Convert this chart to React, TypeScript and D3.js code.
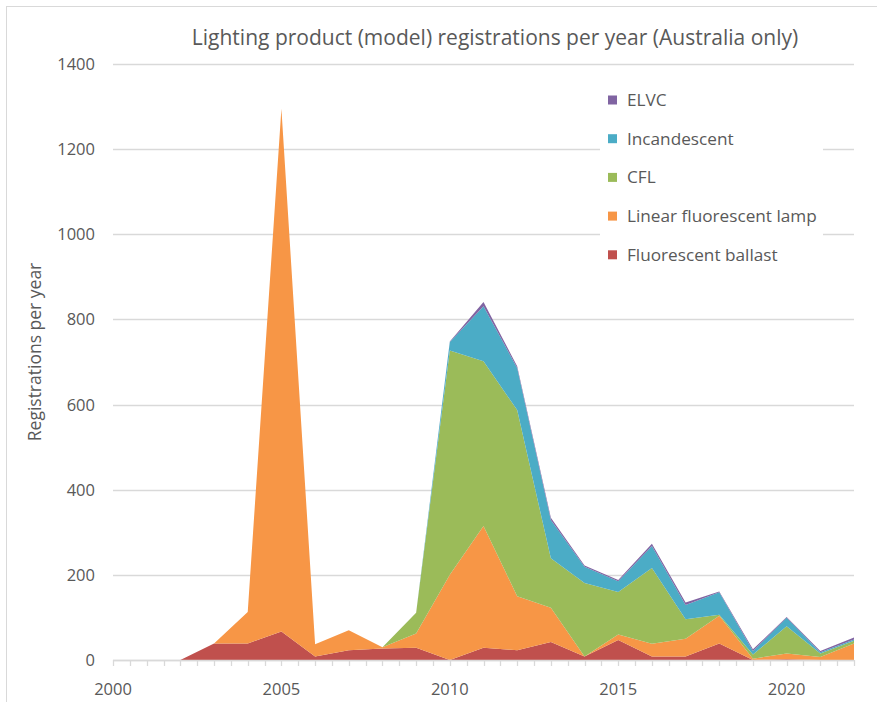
import * as d3 from 'd3'

const years = [2002, 2003, 2004, 2005, 2006, 2007, 2008, 2009, 2010, 2011, 2012, 2013, 2014, 2015, 2016, 2017, 2018, 2019, 2020, 2021, 2022]
const ballast = [0, 39, 39, 67, 8, 23, 27, 29, 0, 29, 23, 42, 8, 47, 8, 8, 39, 0, 2, 0, 0]
const linearLamp = [0, 0, 74, 1228, 29, 47, 3, 33, 200, 286, 127, 81, 0, 13, 30, 42, 65, 3, 13, 7, 39]
const cfl = [0, 0, 0, 0, 0, 0, 0, 49, 527, 387, 437, 116, 173, 100, 178, 46, 2, 10, 64, 8, 6]
const incandescent = [0, 0, 0, 0, 0, 0, 0, 0, 20, 129, 99, 90, 38, 25, 52, 33, 53, 8, 20, 3, 3]
const elvc = [0, 0, 0, 0, 0, 0, 0, 0, 1, 10, 4, 5, 3, 3, 5, 6, 2, 4, 2, 3, 5]

const series = [
  { key: 'ballast', name: 'Fluorescent ballast', color: '#C0504D', values: ballast },
  { key: 'linear', name: 'Linear fluorescent lamp', color: '#F79646', values: linearLamp },
  { key: 'cfl', name: 'CFL', color: '#9BBB59', values: cfl },
  { key: 'incandescent', name: 'Incandescent', color: '#4BACC6', values: incandescent },
  { key: 'elvc', name: 'ELVC', color: '#8064A2', values: elvc },
]

const yTicks = [0, 200, 400, 600, 800, 1000, 1200, 1400]
const xLabels = [2000, 2005, 2010, 2015, 2020]

const font = '"Open Sans", "Liberation Sans", sans-serif'
const textColor = '#595959'
const gridColor = '#D9D9D9'

export default function App() {
  const width = 877
  const height = 702
  const x = d3.scaleLinear().domain([2000, 2022]).range([113, 854])
  const y = d3.scaleLinear().domain([0, 1400]).range([660, 64])

  const table = years.map((yr, i) => {
    const row: any = { year: yr }
    series.forEach(s => (row[s.key] = s.values[i]))
    return row
  })
  const stacked = d3.stack().keys(series.map(s => s.key))(table)
  const area = d3
    .area<any>()
    .x(d => x(d.data.year))
    .y0(d => y(d[0]))
    .y1(d => y(d[1]))

  const minorTicks = d3.range(2000, 2022.01, 0.5)
  const legendItems = [...series].reverse()

  return (
    <div style={{ position: 'absolute', left: 0, top: 0 }}>
      <svg width={width} height={height} style={{ display: 'block', background: '#fff' }}>
        <rect x={6.5} y={6.5} width={900} height={900} fill="#fff" stroke={gridColor} />

        {/* gridlines */}
        {yTicks.map(t => (
          <line key={t} x1={113} x2={854} y1={Math.round(y(t)) + 0.5} y2={Math.round(y(t)) + 0.5} stroke={gridColor} strokeWidth={1.3} />
        ))}

        {/* stacked areas */}
        {stacked.map((layer, i) => (
          <path key={layer.key} d={area(layer as any) || ''} fill={series[i].color} />
        ))}

        {/* x axis */}
        <line x1={113} x2={854} y1={660.5} y2={660.5} stroke={gridColor} strokeWidth={1.3} />
        {minorTicks.map(t => (
          <line key={t} x1={Math.round(x(t)) + 0.5} x2={Math.round(x(t)) + 0.5} y1={660} y2={666} stroke={gridColor} strokeWidth={1.3} />
        ))}
        {xLabels.map(t => (
          <text key={t} x={x(t)} y={695} textAnchor="middle" fontFamily={font} fontSize={16.5} fill={textColor}>
            {t}
          </text>
        ))}

        {/* y axis labels */}
        {yTicks.map(t => (
          <text key={t} x={95} y={y(t) + 6} textAnchor="end" fontFamily={font} fontSize={16.5} fill={textColor}>
            {t}
          </text>
        ))}
        <text
          transform={`translate(41,352) rotate(-90)`}
          textAnchor="middle"
          fontFamily={font}
          fontSize={17.5}
          fill={textColor}
        >
          Registrations per year
        </text>

        {/* title */}
        <text x={495} y={45} textAnchor="middle" fontFamily={font} fontSize={21} fill={textColor}>
          Lighting product (model) registrations per year (Australia only)
        </text>

        {/* legend */}
        <rect x={600} y={84} width={223} height={188} fill="#fff" />
        {legendItems.map((s, i) => (
          <g key={s.key} transform={`translate(608,${100 + i * 38.7})`}>
            <rect x={0} y={-4.5} width={9} height={9} fill={s.color} />
            <text x={19} y={6} fontFamily={font} fontSize={17.2} fill={textColor}>
              {s.name}
            </text>
          </g>
        ))}
      </svg>
    </div>
  )
}
